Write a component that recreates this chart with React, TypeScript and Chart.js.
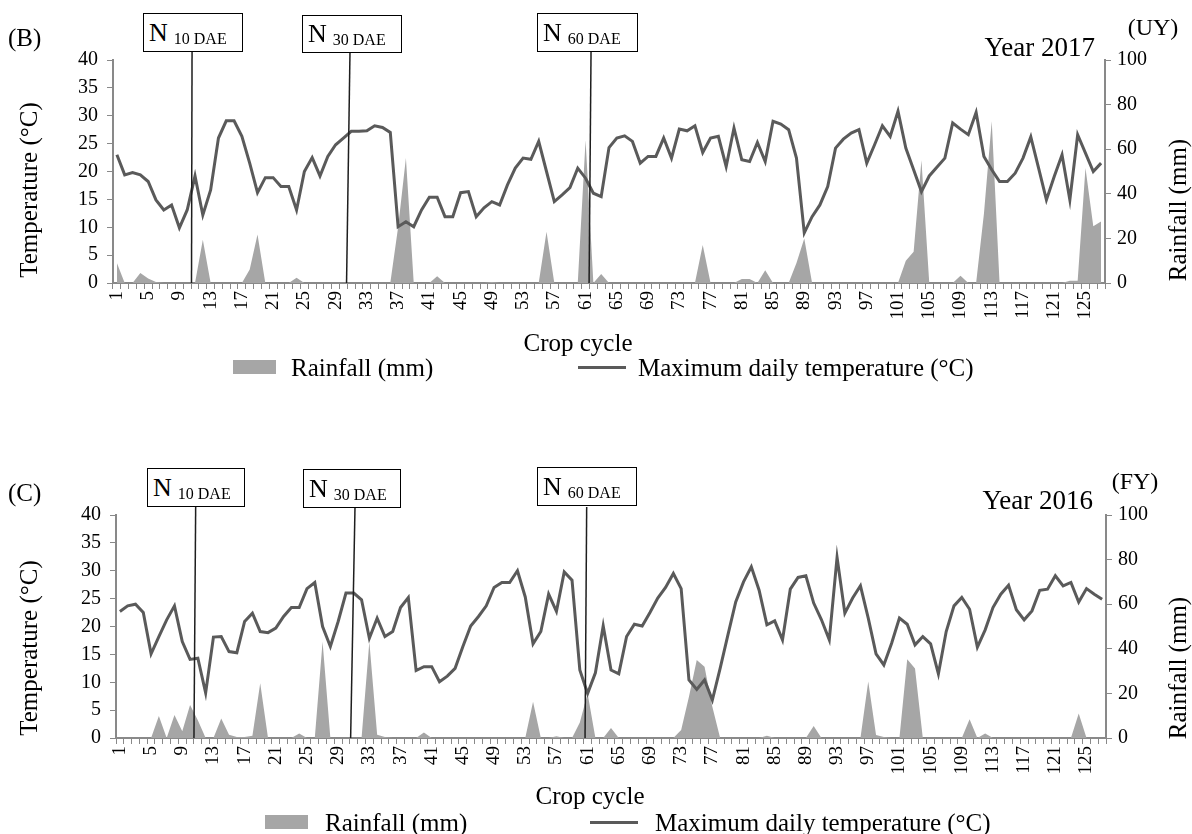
import React, { useEffect, useRef } from 'react';
import { Chart, registerables } from 'chart.js';

Chart.register(...registerables);

const FONT = "'Liberation Serif', 'Times New Roman', serif";
const AXIS = '#898989';

const CATEGORIES = Array.from({ length: 127 }, (_, i) => String(i + 1));

const TEMP_2017 = [
  23.0, 19.4, 19.8, 19.4, 18.2, 14.9, 13.1, 14.0, 9.9, 13.1,
  19.2, 12.2, 16.7, 26.0, 29.1, 29.1, 26.3, 21.5, 16.2, 18.9,
  18.9, 17.3, 17.3, 13.1, 20.0, 22.5, 19.2, 22.7, 24.8, 26.0,
  27.2, 27.2, 27.3, 28.2, 27.9, 27.0, 10.1, 11.0, 10.1, 13.1,
  15.4, 15.4, 11.9, 11.9, 16.2, 16.4, 11.9, 13.5, 14.6, 14.0,
  17.6, 20.6, 22.4, 22.2, 25.4, 20.0, 14.6, 15.8, 17.1, 20.6,
  18.8, 16.1, 15.5, 24.3, 26.0, 26.4, 25.4, 21.5, 22.7, 22.7,
  26.0, 22.4, 27.6, 27.3, 28.2, 23.4, 26.0, 26.3, 20.9, 27.8,
  22.1, 21.8, 25.2, 21.8, 29.0, 28.5, 27.5, 22.4, 9.0, 11.9,
  14.0, 17.3, 24.2, 25.8, 26.9, 27.5, 21.5, 24.8, 28.2, 26.3,
  30.8, 24.2, 20.3, 16.4, 19.2, 20.8, 22.4, 28.7, 27.6, 26.6,
  30.6, 22.7, 20.3, 18.2, 18.2, 19.7, 22.4, 26.2, 20.6, 14.9,
  19.1, 23.0, 14.9, 26.6, 23.3, 20.0, 21.5,
];

const RAIN_2017 = [
  9, 0, 0, 4.5, 2, 0.5, 0, 0, 0, 0,
  0, 19.4, 0, 0, 0, 0, 0, 6, 21.7, 0,
  0, 0, 0, 2.4, 0, 0, 0, 0, 0, 0,
  0, 0, 0, 0, 0, 0, 25, 56, 0, 0,
  0, 3, 0, 0, 0, 0, 0, 0, 0.5, 0,
  0, 0, 0, 0, 0, 23, 0, 0, 0, 0,
  64, 0, 4, 0, 0, 0, 0, 0, 0, 0,
  0, 0, 0, 0, 0, 17, 0, 0, 0, 0,
  1.8, 1.8, 0, 5.7, 0, 0, 0, 9, 20, 0,
  0, 0, 0, 0, 0, 0, 0, 0, 0, 0,
  0, 10, 14, 55, 0, 0, 0, 0, 3.3, 0,
  0, 31, 72.5, 0, 0, 0, 0, 0, 0, 0,
  0, 0, 1, 1, 51.6, 25.4, 27.6,
];

const TEMP_2016 = [
  22.7, 23.7, 24.0, 22.5, 15.1, 18.2, 21.2, 23.7, 17.3, 14.1,
  14.3, 8.1, 18.1, 18.2, 15.5, 15.3, 20.9, 22.4, 19.1, 18.9,
  19.7, 21.8, 23.4, 23.4, 26.8, 27.9, 20.0, 16.4, 20.9, 26.0,
  26.0, 24.8, 17.9, 21.5, 18.2, 19.1, 23.4, 25.2, 12.1, 12.8,
  12.8, 10.1, 11.1, 12.5, 16.4, 20.1, 21.8, 23.7, 27.0, 27.9,
  27.9, 30.0, 25.3, 16.9, 19.1, 25.8, 22.7, 29.8, 28.3, 12.2,
  8.0, 11.7, 20.1, 12.2, 11.5, 18.2, 20.4, 20.1, 22.5, 25.1,
  27.0, 29.5, 26.8, 10.4, 8.7, 10.4, 6.8, 12.5, 18.5, 24.4,
  28.0, 30.7, 26.5, 20.3, 21.0, 17.6, 26.7, 28.8, 29.1, 24.2,
  21.2, 17.6, 32.4, 22.4, 25.1, 27.3, 21.5, 15.1, 13.1, 17.0,
  21.5, 20.4, 16.7, 18.2, 16.9, 11.5, 19.1, 23.7, 25.2, 23.1,
  16.3, 19.4, 23.4, 25.8, 27.4, 23.0, 21.2, 22.8, 26.5, 26.7,
  29.1, 27.3, 27.9, 24.4, 26.8, 25.8, 24.9,
];

const RAIN_2016 = [
  0, 0, 0, 0, 0, 9.9, 0, 10.3, 3, 14.8,
  8, 0, 0, 8.8, 1.5, 0.5, 0.5, 1, 24.5, 0,
  0, 0, 0, 2, 0, 0, 43.2, 0, 0, 0,
  0, 0, 43.2, 1.5, 0.5, 0, 0, 0, 0, 2.5,
  0, 0, 0, 0, 0, 0, 0, 0, 0, 0,
  0, 0, 0, 16.3, 0, 0, 0.8, 0, 0, 7,
  20, 0, 0, 4.5, 0, 0, 0, 0, 0, 0,
  0, 0, 3.6, 18.5, 35, 32, 14, 0, 0, 0,
  0, 0, 0, 1, 0, 0, 0, 0, 0, 5.4,
  0, 0, 0, 0, 0, 0, 25.3, 1.3, 0.5, 0,
  0, 35.3, 31.2, 0, 0, 0, 0, 0, 0, 8.4,
  0, 2, 0, 0, 0, 0, 0, 0, 0, 0,
  0, 0, 0, 11, 0, 0, 0,
];

// nitrogen application markers: category position at box (top) and at axis (bottom)
const N_LABELS = ['10 DAE', '30 DAE', '60 DAE'];
const MARKERS_2017 = [[10.62, 10.55], [30.84, 30.4], [61.7, 61.45]];
const MARKERS_2016 = [[10.72, 10.5], [31.16, 30.6], [60.88, 60.67]];

type Area = { left: number; right: number; top: number; bottom: number };

function usePanelChart(
  ref: React.RefObject<HTMLCanvasElement>,
  temps: number[],
  rain: number[],
  markers: number[][],
  area: Area,
  lineTop: number,
  height: number
) {
  useEffect(() => {
    if (!ref.current) return;
    const markerPlugin = {
      id: 'nMarkers',
      afterDatasetsDraw(chart: any) {
        const ctx = chart.ctx;
        const xs = chart.scales.x;
        ctx.save();
        ctx.strokeStyle = '#1e1e1e';
        ctx.lineWidth = 1.5;
        markers.forEach((m) => {
          const xt = xs.getPixelForValue(m[0] - 1);
          const xb = xs.getPixelForValue(m[1] - 1);
          ctx.beginPath();
          ctx.moveTo(xt, lineTop);
          ctx.lineTo(xb, chart.chartArea.bottom);
          ctx.stroke();
        });
        ctx.restore();
      },
    };
    const tickFont = { family: FONT, size: 20 };
    const chart = new Chart(ref.current, {
      type: 'line',
      data: {
        labels: CATEGORIES,
        datasets: [
          {
            label: 'Maximum daily temperature (°C)',
            data: temps,
            yAxisID: 'y',
            borderColor: '#5a5a5a',
            borderWidth: 3,
            pointRadius: 0,
            tension: 0,
            fill: false,
            order: 0,
          },
          {
            label: 'Rainfall (mm)',
            data: rain,
            yAxisID: 'y2',
            borderColor: 'rgba(0,0,0,0)',
            borderWidth: 0,
            backgroundColor: '#a6a6a6',
            fill: 'origin',
            pointRadius: 0,
            tension: 0,
            order: 1,
          },
        ],
      },
      options: {
        responsive: false,
        animation: false,
        devicePixelRatio: 1,
        layout: { padding: { top: area.top, left: 0, right: 0, bottom: 0 } },
        plugins: { legend: { display: false }, tooltip: { enabled: false }, title: { display: false } },
        scales: {
          x: {
            type: 'category',
            offset: true,
            grid: { offset: true, drawOnChartArea: false, color: AXIS, tickLength: 6, lineWidth: 1 },
            border: { color: AXIS, width: 2 },
            ticks: {
              autoSkip: false,
              minRotation: 90,
              maxRotation: 90,
              color: '#000',
              padding: 2,
              font: { family: FONT, size: 19 },
              callback: (_v: any, i: number) => (i % 4 === 0 ? CATEGORIES[i] : ''),
            },
            afterFit: (s: any) => {
              s.height = height - area.bottom;
            },
          },
          y: {
            position: 'left',
            min: 0,
            max: 40,
            grid: { drawOnChartArea: false, color: AXIS, tickLength: 6 },
            border: { color: AXIS, width: 2 },
            ticks: { stepSize: 5, autoSkip: false, color: '#000', padding: 9, font: tickFont },
            afterFit: (s: any) => {
              s.width = area.left;
            },
          },
          y2: {
            position: 'right',
            min: 0,
            max: 100,
            grid: { drawOnChartArea: false, color: AXIS, tickLength: 6 },
            border: { color: AXIS, width: 2 },
            ticks: { stepSize: 20, autoSkip: false, color: '#000', padding: 6, font: tickFont },
            afterFit: (s: any) => {
              s.width = 1192 - area.right;
            },
          },
        },
      } as any,
      plugins: [markerPlugin],
    });
    return () => chart.destroy();
  }, []);
}

const Txt = (p: {
  x: number;
  y: number;
  size: number;
  align?: 'left' | 'center' | 'right';
  rot?: boolean;
  children: any;
}) => {
  const tx = p.align === 'center' || p.rot ? '-50%' : p.align === 'right' ? '-100%' : '0';
  return (
    <div
      style={{
        position: 'absolute',
        left: p.x,
        top: p.y,
        fontSize: p.size,
        lineHeight: 1,
        whiteSpace: 'nowrap',
        transform: `translate(${tx}, -50%)${p.rot ? ' rotate(-90deg)' : ''}`,
      }}
    >
      {p.children}
    </div>
  );
};

const NBox = (p: { x: number; y: number; w: number; h: number; sub: string }) => (
  <div
    style={{
      position: 'absolute',
      left: p.x,
      top: p.y,
      width: p.w,
      height: p.h,
      boxSizing: 'border-box',
      border: '1.5px solid #000',
      background: '#fff',
      display: 'flex',
      alignItems: 'center',
      paddingLeft: 5,
      whiteSpace: 'nowrap',
    }}
  >
    <span style={{ fontSize: 26, lineHeight: 1 }}>N</span>
    <span style={{ fontSize: 16, lineHeight: 1, marginLeft: 6, position: 'relative', top: 6 }}>{p.sub}</span>
  </div>
);

const Legend = (p: { y: number; boxX: number; textX: number; lineX: number; text2X: number }) => (
  <>
    <div style={{ position: 'absolute', left: p.boxX, top: p.y - 7, width: 43, height: 14, background: '#a6a6a6' }} />
    <Txt x={p.textX} y={p.y} size={25}>Rainfall (mm)</Txt>
    <div style={{ position: 'absolute', left: p.lineX, top: p.y - 1.5, width: 48, height: 3, background: '#5a5a5a' }} />
    <Txt x={p.text2X} y={p.y} size={25}>Maximum daily temperature (°C)</Txt>
  </>
);

export default function App() {
  const topRef = useRef<HTMLCanvasElement>(null);
  const botRef = useRef<HTMLCanvasElement>(null);
  usePanelChart(topRef, TEMP_2017, RAIN_2017, MARKERS_2017, { left: 113, right: 1105, top: 60, bottom: 283 }, 52, 417);
  usePanelChart(botRef, TEMP_2016, RAIN_2016, MARKERS_2016, { left: 116, right: 1106, top: 98, bottom: 321 }, 90, 417);

  return (
    <div
      style={{
        position: 'absolute',
        left: 0,
        top: 0,
        width: 1192,
        height: 834,
        background: '#fff',
        fontFamily: FONT,
        color: '#000',
        overflow: 'hidden',
      }}
    >
      <canvas ref={topRef} width={1192} height={417} style={{ position: 'absolute', left: 0, top: 0 }} />
      <canvas ref={botRef} width={1192} height={417} style={{ position: 'absolute', left: 0, top: 417 }} />

      {/* top panel */}
      <Txt x={8} y={37} size={25}>(B)</Txt>
      <NBox x={143} y={13} w={100} h={39} sub={N_LABELS[0]} />
      <NBox x={302} y={15} w={100} h={38} sub={N_LABELS[1]} />
      <NBox x={537} y={13} w={101} h={39} sub={N_LABELS[2]} />
      <Txt x={1095} y={47} size={27} align="right">Year 2017</Txt>
      <Txt x={1153} y={27} size={24} align="center">(UY)</Txt>
      <Txt x={28} y={190} size={25} rot>Temperature (°C)</Txt>
      <Txt x={1177} y={210} size={25} rot>Rainfall (mm)</Txt>
      <Txt x={578} y={342} size={25} align="center">Crop cycle</Txt>
      <Legend y={367} boxX={233} textX={291} lineX={578} text2X={638} />

      {/* bottom panel */}
      <Txt x={8} y={492} size={25}>(C)</Txt>
      <NBox x={147} y={468} w={98} h={39} sub={N_LABELS[0]} />
      <NBox x={303} y={469} w={98} h={39} sub={N_LABELS[1]} />
      <NBox x={537} y={467} w={100} h={39} sub={N_LABELS[2]} />
      <Txt x={1093} y={500} size={27} align="right">Year 2016</Txt>
      <Txt x={1135} y={481} size={24} align="center">(FY)</Txt>
      <Txt x={28} y={648} size={25} rot>Temperature (°C)</Txt>
      <Txt x={1177} y={668} size={25} rot>Rainfall (mm)</Txt>
      <Txt x={590} y={795} size={25} align="center">Crop cycle</Txt>
      <Legend y={822} boxX={265} textX={325} lineX={590} text2X={655} />
    </div>
  );
}
